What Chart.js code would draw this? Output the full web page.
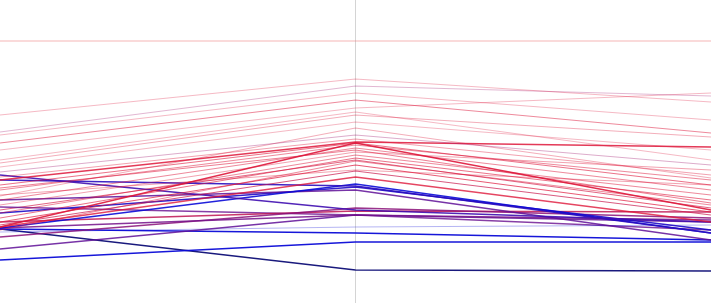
<!DOCTYPE html>
<html>
<head>
<meta charset="utf-8">
<script src="https://cdn.jsdelivr.net/npm/chart.js@4/dist/chart.umd.min.js"></script>
<style>
  html, body { margin: 0; padding: 0; background: #fff; }
  #wrap { width: 711px; height: 303px; position: relative; }
</style>
</head>
<body>
<div id="wrap"><canvas id="chart"></canvas></div>
<script>
// 三個軸
const axisLabels = ['A', 'B', 'C'];

// 每條線在三個軸上的值
const leftValues  = [41, 115, 132, 135, 143, 150, 160, 163, 167, 172, 177, 180, 185, 190, 200, 205, 213, 218, 227, 222, 225, 227, 230, 195,
                     175, 180, 228, 200, 213, 228, 237, 249, 232, 229, 260, 229, 222, 207, 188, 210, 196];
const midValues   = [41,  79,  86,  93, 100, 108, 112, 115, 122, 135, 139, 142, 143, 145, 148, 152, 155, 158, 143, 165, 171, 177, 161, 170,
                     210, 186, 184, 190, 187, 215, 208, 215, 227, 233, 242, 270, 211, 215, 150, 160, 128];
const rightValues = [41, 102,  96, 120, 133,  93, 160, 137, 150, 165, 175, 147, 185, 180, 190, 170, 195, 200, 210, 212, 215, 222, 205, 185,
                     222, 233, 233, 240, 230, 220, 218, 222, 225, 240, 242, 271, 212, 230, 203, 208, 178];

// 顏色：0 = 紅, 1 = 藍；透明度
const tone  = [0, 0, .3, 0, 0, 0, 0, 0, 0, .3, 0, 0, 0, 0, 0, 0, 0, 0, 0, 0, .1, 0, 0, 0,
               .75, .85, 1, .6, .9, .5, .4, .6, 1, 1, 1, 1, .15, .55, 0, .05, 0];
const alpha = [.55, .3, .3, .3, .5, .3, .3, .35, .3, .35, .4, .85, .6, .5, .5, .4, .5, .6, .9, .7, .7, .8, .5, .4,
               .9, .9, .9, .85, .9, .85, .85, .85, .3, .95, .95, 1, .85, .8, .55, .65, .35];

function lineColor(i) {
    const t = tone[i];
    let r = Math.round(222 * (1 - t) + 10 * t);
    let g = Math.round(22 * (1 - t) + 10 * t);
    let b = Math.round(58 * (1 - t) + 215 * t);
    if (i === 35) { r = 25; g = 25; b = 125; }
    if (i === 0) { r = 235; g = 120; b = 120; }
    return 'rgba(' + r + ',' + g + ',' + b + ',' + alpha[i] + ')';
}

const datasets = leftValues.map((v, i) => ({
    data: [v, midValues[i], rightValues[i]],
    borderColor: lineColor(i),
    borderWidth: alpha[i] > 0.75 ? 1.4 : 1.1,
    pointRadius: 0,
    tension: 0,
    fill: false
}));

const ctx = document.getElementById('chart').getContext('2d');
new Chart(ctx, {
    type: 'line',
    data: { labels: axisLabels, datasets: datasets },
    options: {
        responsive: true,
        maintainAspectRatio: false,
        animation: false,
        layout: { padding: 0 },
        plugins: { legend: { display: false }, tooltip: { enabled: false } },
        scales: {
            x: {
                offset: false,
                ticks: { display: false },
                border: { display: false },
                grid: {
                    drawTicks: false,
                    color: c => c.index === 1 ? '#d4d4d4' : 'rgba(0,0,0,0)'
                }
            },
            y: {
                display: false,
                reverse: true,
                min: 0,
                max: 303
            }
        }
    }
});
</script>
</body>
</html>
